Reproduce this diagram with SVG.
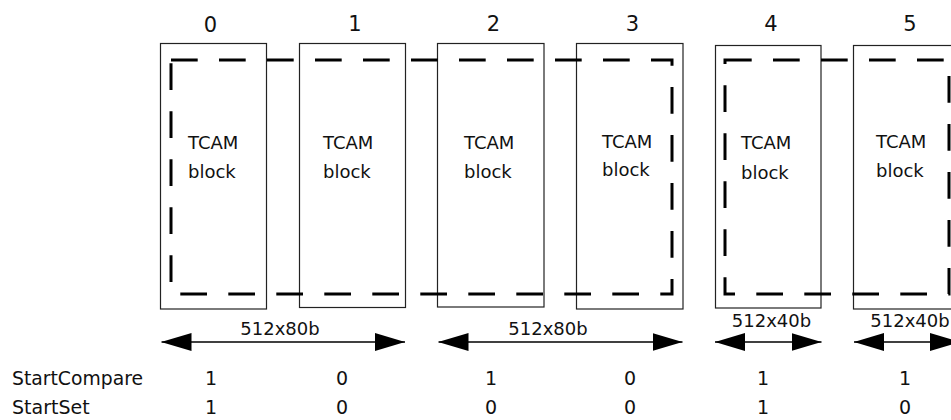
<svg xmlns="http://www.w3.org/2000/svg" width="951" height="420" viewBox="0 0 951 420">
<style>
.box{fill:none;stroke:#222;stroke-width:1.2}
.dash{fill:none;stroke:#000;stroke-width:3;stroke-dasharray:26.7 21.3}
.num{font-family:"DejaVu Sans",Verdana,sans-serif;font-size:21px;fill:#111;text-anchor:middle}
.lbl{font-family:"DejaVu Sans",Verdana,sans-serif;font-size:18px;fill:#111}
.dim{font-family:"DejaVu Sans",Verdana,sans-serif;font-size:18px;fill:#111;text-anchor:middle}
.row{font-family:"DejaVu Sans",Verdana,sans-serif;font-size:19px;fill:#111}
.val{font-family:"DejaVu Sans",Verdana,sans-serif;font-size:19px;fill:#111;text-anchor:middle}
.arr{stroke:#000;stroke-width:1.6;fill:none;marker-start:url(#ah);marker-end:url(#ah)}
</style>
<defs>
<marker id="ah" markerUnits="userSpaceOnUse" markerWidth="30" markerHeight="18" refX="30" refY="9" orient="auto-start-reverse" viewBox="0 0 30 18">
<path d="M0,0 L30,9 L0,18 Z" fill="#000"/>
</marker>
</defs>
<rect width="951" height="420" fill="#fff"/>
<g id="block0"><rect class="box" x="160.5" y="43.5" width="106" height="265.5"/><text class="num" x="210.5" y="31.5">0</text><text class="lbl" x="188" y="149">TCAM</text><text class="lbl" x="188" y="178">block</text></g>
<g id="block1"><rect class="box" x="299.5" y="43.5" width="106" height="264"/><text class="num" x="355" y="30.5">1</text><text class="lbl" x="323" y="149">TCAM</text><text class="lbl" x="323" y="178">block</text></g>
<g id="block2"><rect class="box" x="437.5" y="43.5" width="106.5" height="263.5"/><text class="num" x="493.5" y="30.5">2</text><text class="lbl" x="464" y="149">TCAM</text><text class="lbl" x="464" y="178">block</text></g>
<g id="block3"><rect class="box" x="576.5" y="43.5" width="106.5" height="265.5"/><text class="num" x="632.5" y="30.5">3</text><text class="lbl" x="602" y="147.5">TCAM</text><text class="lbl" x="602" y="176">block</text></g>
<g id="block4"><rect class="box" x="715.5" y="45.5" width="105.5" height="262.5"/><text class="num" x="771" y="30.5">4</text><text class="lbl" x="741" y="149">TCAM</text><text class="lbl" x="741" y="179">block</text></g>
<g id="block5"><rect class="box" x="853.5" y="45.5" width="106" height="263.5"/><text class="num" x="910" y="30.5">5</text><text class="lbl" x="876" y="147.5">TCAM</text><text class="lbl" x="876" y="176.5">block</text></g>
<g id="connectors">
<rect class="dash" x="171" y="60" width="501" height="234"/>
<rect class="dash" x="725" y="60" width="224" height="234"/>
<line class="arr" x1="161.5" y1="342" x2="405" y2="342"/>
<line class="arr" x1="438.5" y1="342" x2="682.5" y2="342"/>
<line class="arr" x1="715" y1="342" x2="821.5" y2="342"/>
<line class="arr" x1="854" y1="342" x2="960" y2="342"/>
</g>
<g id="dims">
<text class="dim" x="280" y="335">512x80b</text>
<text class="dim" x="548" y="334.5">512x80b</text>
<text class="dim" x="771.5" y="327">512x40b</text>
<text class="dim" x="910" y="327">512x40b</text>
</g>
<g id="table">
<text class="row" x="12" y="385" textLength="131" lengthAdjust="spacingAndGlyphs">StartCompare</text>
<text class="row" x="12" y="414">StartSet</text>
<text class="val" x="211" y="385">1</text><text class="val" x="342" y="385">0</text><text class="val" x="491" y="385">1</text><text class="val" x="630" y="385">0</text><text class="val" x="763" y="385">1</text><text class="val" x="905" y="385">1</text>
<text class="val" x="211" y="414">1</text><text class="val" x="342" y="414">0</text><text class="val" x="491" y="414">0</text><text class="val" x="630" y="414">0</text><text class="val" x="763" y="414">1</text><text class="val" x="905" y="414">0</text>
</g>
</svg>
